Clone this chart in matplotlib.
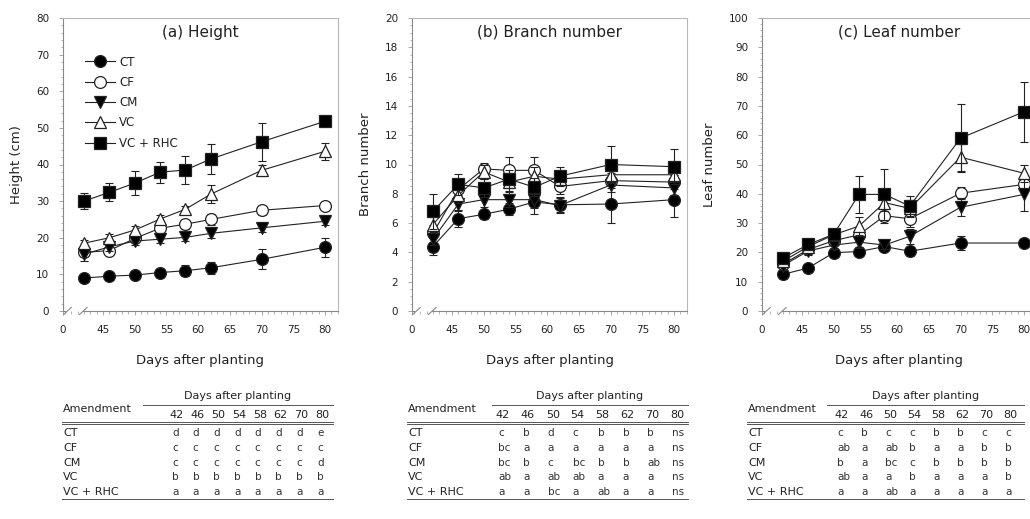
import matplotlib
matplotlib.use("Agg")
import matplotlib.pyplot as plt
from matplotlib.ticker import MultipleLocator, AutoMinorLocator
from matplotlib.lines import Line2D

plt.rcParams['font.family'] = ['DejaVu Sans']

days = [42, 46, 50, 54, 58, 62, 70, 80]
treatments = ['CT', 'CF', 'CM', 'VC', 'VC + RHC']

# (a) Height (cm)
height_mean = {
    'CT':       [9.0, 9.5, 9.8, 10.5, 11.0, 11.8, 14.1, 17.4],
    'CF':       [16.0, 16.5, 19.8, 22.6, 23.7, 25.0, 27.5, 28.8],
    'CM':       [15.5, 17.5, 19.1, 19.6, 20.1, 21.2, 22.7, 24.5],
    'VC':       [18.5, 20.0, 22.1, 25.1, 27.8, 31.9, 38.4, 43.6],
    'VC + RHC': [30.0, 32.4, 34.9, 37.9, 38.5, 41.5, 46.2, 51.8],
}
height_err = {
    'CT':       [0.8, 0.8, 0.8, 1.0, 1.5, 1.6, 2.7, 2.6],
    'CF':       [1.0, 1.0, 1.0, 1.2, 1.2, 1.5, 1.2, 1.0],
    'CM':       [1.8, 1.2, 1.0, 1.0, 1.0, 1.2, 1.0, 1.0],
    'VC':       [1.0, 1.0, 1.0, 1.0, 1.0, 2.4, 1.5, 2.3],
    'VC + RHC': [2.2, 2.5, 3.3, 2.9, 3.8, 4.0, 5.2, 1.0],
}
# (b) Branch number
branch_mean = {
    'CT':       [4.4, 6.3, 6.6, 6.95, 7.45, 7.25, 7.3, 7.6],
    'CF':       [5.3, 8.3, 9.7, 9.6, 9.6, 8.5, 8.9, 8.8],
    'CM':       [4.9, 7.3, 7.6, 7.6, 7.6, 7.2, 8.6, 8.4],
    'VC':       [5.9, 7.9, 9.5, 8.8, 9.2, 9.0, 9.3, 9.3],
    'VC + RHC': [6.8, 8.65, 8.4, 9.0, 8.45, 9.2, 10.0, 9.85],
}
branch_err = {
    'CT':       [0.6, 0.6, 0.3, 0.4, 0.8, 0.5, 1.3, 1.2],
    'CF':       [0.6, 0.6, 0.4, 0.9, 0.9, 0.5, 0.5, 0.5],
    'CM':       [0.4, 0.5, 0.5, 0.5, 0.6, 0.5, 0.5, 0.5],
    'VC':       [0.5, 0.5, 0.5, 0.6, 0.6, 0.5, 0.5, 0.5],
    'VC + RHC': [1.2, 0.7, 0.6, 0.6, 0.6, 0.6, 1.25, 1.2],
}
# (c) Leaf number
leaf_mean = {
    'CT':       [12.5, 14.7, 19.9, 20.3, 22.0, 20.4, 23.2, 23.2],
    'CF':       [16.0, 21.0, 24.0, 26.0, 32.5, 31.5, 40.2, 43.2],
    'CM':       [15.5, 20.5, 22.5, 23.5, 22.5, 25.5, 35.4, 39.8],
    'VC':       [17.0, 22.0, 26.0, 29.0, 37.0, 35.0, 52.5, 47.0],
    'VC + RHC': [18.1, 22.7, 26.2, 39.8, 39.8, 35.8, 59.0, 68.0],
}
leaf_err = {
    'CT':       [1.5, 1.5, 1.5, 1.5, 1.0, 1.5, 2.5, 1.5],
    'CF':       [1.5, 1.5, 1.5, 2.0, 2.5, 3.0, 2.0, 2.5],
    'CM':       [1.5, 1.5, 1.5, 2.0, 1.5, 2.5, 3.0, 5.5],
    'VC':       [1.5, 1.5, 1.5, 3.0, 3.0, 3.0, 4.6, 3.0],
    'VC + RHC': [1.5, 1.5, 1.5, 6.2, 8.6, 3.5, 11.5, 10.2],
}

x_ticks = [45, 50, 55, 60, 65, 70, 75, 80]
x_ticklabels = ['0', '45', '50', '55', '60', '65', '70', '75', '80']

table_cols = ['42', '46', '50', '54', '58', '62', '70', '80']
table_a = [
    ['d', 'd', 'd', 'd', 'd', 'd', 'd', 'e'],
    ['c', 'c', 'c', 'c', 'c', 'c', 'c', 'c'],
    ['c', 'c', 'c', 'c', 'c', 'c', 'c', 'd'],
    ['b', 'b', 'b', 'b', 'b', 'b', 'b', 'b'],
    ['a', 'a', 'a', 'a', 'a', 'a', 'a', 'a'],
]
table_b = [
    ['c', 'b', 'd', 'c', 'b', 'b', 'b', 'ns'],
    ['bc', 'a', 'a', 'a', 'a', 'a', 'a', 'ns'],
    ['bc', 'b', 'c', 'bc', 'b', 'b', 'ab', 'ns'],
    ['ab', 'a', 'ab', 'ab', 'a', 'a', 'a', 'ns'],
    ['a', 'a', 'bc', 'a', 'ab', 'a', 'a', 'ns'],
]
table_c = [
    ['c', 'b', 'c', 'c', 'b', 'b', 'c', 'c'],
    ['ab', 'a', 'ab', 'b', 'a', 'a', 'b', 'b'],
    ['b', 'a', 'bc', 'c', 'b', 'b', 'b', 'b'],
    ['ab', 'a', 'a', 'b', 'a', 'a', 'a', 'b'],
    ['a', 'a', 'ab', 'a', 'a', 'a', 'a', 'a'],
]

styles = {
    'CT':       dict(marker='o', mfc='black'),
    'CF':       dict(marker='o', mfc='white'),
    'CM':       dict(marker='v', mfc='black'),
    'VC':       dict(marker='^', mfc='white'),
    'VC + RHC': dict(marker='s', mfc='black'),
}

W, H = 1030, 519
fig = plt.figure(figsize=(W / 100, H / 100), dpi=100)

XL, XR = 38.7, 82.05
INK = '#222222'
GRAY = '#9a9a9a'


def px_ax(left, right, top, bottom):
    return [left / W, 1 - bottom / H, (right - left) / W, (bottom - top) / H]


def make_panel(left, means, errs, ymax, ymajor, yminor_n, ylabel, title, legend=False):
    ax = fig.add_axes(px_ax(left, left + 275, 18, 311))
    ax.set_xlim(XL, XR)
    ax.set_ylim(0, ymax)
    for i, t in enumerate(treatments):
        st = styles[t]
        ax.errorbar(days, means[t], yerr=errs[t], fmt='none', ecolor=INK,
                    elinewidth=0.8, capsize=3, capthick=0.8, zorder=2 + i)
        ax.plot(days, means[t], color=INK, lw=0.8, marker=st['marker'],
                mfc=st['mfc'], mec=INK, ms=8.5, mew=0.9, zorder=3 + i, label=t)
    ax.set_xticks([XL] + x_ticks)
    ax.set_xticklabels(x_ticklabels)
    ax.xaxis.set_minor_locator(MultipleLocator(1))
    ax.yaxis.set_major_locator(MultipleLocator(ymajor))
    ax.yaxis.set_minor_locator(AutoMinorLocator(yminor_n))
    ax.tick_params(axis='both', which='major', labelsize=7.5, length=3,
                   width=0.6, color=GRAY, labelcolor=INK, direction='out')
    ax.tick_params(axis='both', which='minor', length=1.8, width=0.5,
                   color=GRAY, direction='out')
    ax.tick_params(axis='x', pad=7)
    ax.tick_params(axis='y', pad=7)
    for s in ['top', 'right']:
        ax.spines[s].set_color('#b8b8b8')
        ax.spines[s].set_linewidth(0.8)
    for s in ['left', 'bottom']:
        ax.spines[s].set_color('#888888')
        ax.spines[s].set_linewidth(0.8)
    ax.spines['bottom'].set_bounds(41.9, XR)
    # axis break marks
    trans = ax.get_xaxis_transform()
    for xc in (39.4, 41.9):
        ax.plot([xc - 0.6, xc + 0.6], [-0.012, 0.012], transform=trans,
                color='#888888', lw=0.8, clip_on=False)
    ax.plot([XL, 39.0], [0, 0], transform=trans, color='#888888', lw=0.8,
            clip_on=False)
    ax.set_xlabel('Days after planting', fontsize=9.5, color=INK, labelpad=14)
    ax.set_ylabel(ylabel, fontsize=9.5, color=INK, labelpad=9)
    ax.text(0.5, 0.952, title, transform=ax.transAxes, ha='center', va='center',
            fontsize=11, color=INK)
    if legend:
        handles = [Line2D([], [], color=INK, lw=0.8, marker=styles[t]['marker'],
                          mfc=styles[t]['mfc'], mec=INK, ms=8.5, mew=0.9)
                   for t in treatments]
        ax.legend(handles, treatments, loc='upper left',
                  bbox_to_anchor=(0.08, 0.872), frameon=False, fontsize=8.5,
                  handlelength=2.5, handletextpad=0.4, labelspacing=0.62,
                  labelcolor=INK, borderaxespad=0, borderpad=0)
    return ax


make_panel(63, height_mean, height_err, 80, 10, 5, 'Height (cm)', '(a) Height', legend=True)
make_panel(412, branch_mean, branch_err, 20, 2, 4, 'Branch number', '(b) Branch number')
make_panel(762, leaf_mean, leaf_err, 100, 10, 5, 'Leaf number', '(c) Leaf number')


def fx(x):
    return x / W


def fy(y):
    return 1 - y / H


def hline(x0, x1, y, lw=0.7):
    fig.add_artist(Line2D([fx(x0), fx(x1)], [fy(y), fy(y)], color='#555555', lw=lw))


def draw_table(x0, x_end, col_x, rows_letters, sub_line_x0):
    fs = 7.5
    fig.text(fx((sub_line_x0 + x_end) / 2), fy(396), 'Days after planting',
             ha='center', va='center', fontsize=8, color=INK)
    hline(sub_line_x0, x_end, 404.5)
    fig.text(fx(x0), fy(409), 'Amendment', ha='left', va='center',
             fontsize=8, color=INK)
    for c, lbl in zip(col_x, table_cols):
        fig.text(fx(c), fy(415), lbl, ha='center', va='center', fontsize=8,
                 color=INK)
    hline(x0 - 1, x_end, 422)
    hline(x0 - 1, x_end, 424)
    row_y = [433, 448, 463, 477, 492]
    for ry, name, letters in zip(row_y, treatments, rows_letters):
        fig.text(fx(x0), fy(ry), name, ha='left', va='center', fontsize=8,
                 color=INK)
        for c, let in zip(col_x, letters):
            fig.text(fx(c - 5), fy(ry), let, ha='left', va='center', fontsize=fs,
                     color='#333333')
    hline(x0 - 1, x_end, 499)


cols_a = [177 + i * 20.7 for i in range(8)]
cols_b = [503 + i * 24.9 for i in range(8)]
cols_c = [842 + i * 24.0 for i in range(8)]
draw_table(63, 333, cols_a, table_a, 143)
draw_table(408, 688, cols_b, table_b, 492)
draw_table(748, 1024, cols_c, table_c, 827)

fig.savefig('out.png', dpi=100)
